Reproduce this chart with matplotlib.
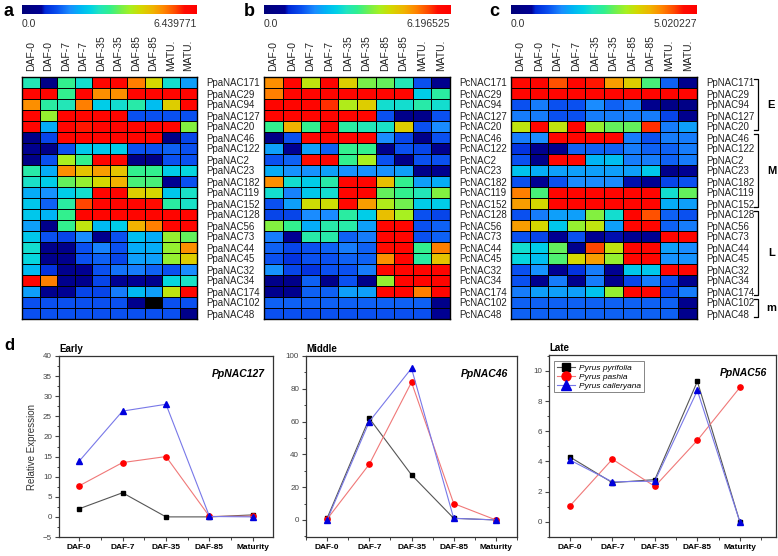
import numpy as np
import matplotlib
matplotlib.use("Agg")
import matplotlib.pyplot as plt
from matplotlib.colors import LinearSegmentedColormap
from matplotlib.ticker import AutoMinorLocator, MultipleLocator
import matplotlib.transforms as mtransforms

plt.rcParams['font.family'] = ['Liberation Sans', 'DejaVu Sans']

W, H = 778, 556
nan = np.nan

columns = ["DAF-0", "DAF-0", "DAF-7", "DAF-7", "DAF-35", "DAF-35",
           "DAF-85", "DAF-85", "MATU.", "MATU."]
genes = ["NAC171", "NAC29", "NAC94", "NAC127", "NAC20", "NAC46", "NAC122", "NAC2",
         "NAC23", "NAC182", "NAC119", "NAC152", "NAC128", "NAC56", "NAC73", "NAC44",
         "NAC45", "NAC32", "NAC34", "NAC174", "NAC102", "NAC48"]
prefix_a, prefix_b, prefix_c = "Ppa", "Pc", "Pp"
max_a, max_b, max_c = 6.439771, 6.196525, 5.020227

# relative level (fraction of colour-scale maximum) read from each cell
lev_a = [
    [0.45, 0.05, 0.50, 0.42, 0.97, 0.97, 0.82, 0.68, 0.42, 0.30],
    [0.97, 0.97, 0.50, 0.97, 0.80, 0.80, 0.97, 0.97, 0.97, 0.97],
    [0.80, 0.48, 0.45, 0.82, 0.38, 0.42, 0.47, 0.35, 0.70, 0.97],
    [0.97, 0.60, 0.97, 0.97, 0.97, 0.97, 0.20, 0.20, 0.20, 0.20],
    [0.97, 0.32, 0.97, 0.92, 0.97, 0.97, 0.97, 0.97, 0.97, 0.58],
    [0.05, 0.18, 0.97, 0.97, 0.97, 0.97, 0.97, 0.97, 0.05, 0.18],
    [0.08, 0.05, 0.20, 0.37, 0.37, 0.38, 0.20, 0.20, 0.22, 0.20],
    [0.05, 0.20, 0.62, 0.50, 0.97, 0.97, 0.05, 0.05, 0.20, 0.20],
    [0.47, 0.32, 0.80, 0.72, 0.78, 0.72, 0.50, 0.50, 0.38, 0.40],
    [0.43, 0.38, 0.55, 0.60, 0.68, 0.75, 0.52, 0.52, 0.10, 0.20],
    [0.32, 0.28, 0.38, 0.42, 0.97, 0.97, 0.70, 0.68, 0.37, 0.43],
    [0.37, 0.22, 0.48, 0.88, 0.97, 0.97, 0.97, 0.93, 0.48, 0.43],
    [0.37, 0.33, 0.50, 0.97, 0.97, 0.97, 0.97, 0.97, 0.97, 0.97],
    [0.30, 0.07, 0.50, 0.65, 0.34, 0.38, 0.75, 0.82, 0.97, 0.97],
    [0.37, 0.20, 0.18, 0.27, 0.08, 0.20, 0.35, 0.32, 0.60, 0.55],
    [0.42, 0.07, 0.07, 0.20, 0.26, 0.20, 0.32, 0.32, 0.60, 0.80],
    [0.40, 0.07, 0.08, 0.20, 0.22, 0.18, 0.30, 0.30, 0.60, 0.70],
    [0.34, 0.15, 0.08, 0.10, 0.20, 0.24, 0.25, 0.22, 0.20, 0.27],
    [0.97, 0.82, 0.08, 0.08, 0.18, 0.10, 0.10, 0.08, 0.40, 0.43],
    [0.30, 0.08, 0.10, 0.18, 0.18, 0.25, 0.34, 0.30, 0.65, 0.97],
    [0.20, 0.20, 0.20, 0.20, 0.20, 0.20, 0.08, nan, 0.20, 0.20],
    [0.20, 0.20, 0.20, 0.20, 0.20, 0.20, 0.20, 0.20, 0.20, 0.07],
]
lev_b = [
    [0.80, 0.97, 0.65, 0.97, 0.70, 0.57, 0.55, 0.45, 0.20, 0.08],
    [0.82, 0.97, 0.97, 0.97, 0.97, 0.97, 0.97, 0.97, 0.38, 0.48],
    [0.97, 0.97, 0.97, 0.90, 0.63, 0.70, 0.42, 0.42, 0.47, 0.42],
    [0.97, 0.97, 0.97, 0.97, 0.97, 0.97, 0.20, 0.07, 0.07, 0.20],
    [0.50, 0.75, 0.50, 0.97, 0.48, 0.45, 0.43, 0.70, 0.20, 0.27],
    [0.05, 0.20, 0.97, 0.97, 0.97, 0.97, 0.27, 0.18, 0.07, 0.20],
    [0.30, 0.10, 0.30, 0.22, 0.50, 0.50, 0.07, 0.20, 0.18, 0.08],
    [0.20, 0.22, 0.93, 0.97, 0.50, 0.62, 0.20, 0.06, 0.20, 0.20],
    [0.32, 0.28, 0.28, 0.30, 0.28, 0.28, 0.28, 0.30, 0.07, 0.08],
    [0.80, 0.42, 0.38, 0.47, 0.97, 0.97, 0.73, 0.50, 0.30, 0.32],
    [0.42, 0.26, 0.37, 0.42, 0.97, 0.97, 0.55, 0.50, 0.45, 0.58],
    [0.20, 0.30, 0.67, 0.67, 0.95, 0.78, 0.63, 0.56, 0.38, 0.38],
    [0.18, 0.18, 0.27, 0.27, 0.48, 0.38, 0.73, 0.62, 0.20, 0.18],
    [0.58, 0.50, 0.32, 0.47, 0.47, 0.30, 0.97, 0.97, 0.20, 0.22],
    [0.25, 0.10, 0.47, 0.47, 0.22, 0.25, 0.97, 0.97, 0.20, 0.22],
    [0.22, 0.18, 0.20, 0.22, 0.25, 0.22, 0.93, 0.97, 0.50, 0.82],
    [0.20, 0.15, 0.20, 0.20, 0.22, 0.22, 0.80, 0.97, 0.48, 0.72],
    [0.28, 0.18, 0.15, 0.20, 0.20, 0.25, 0.97, 0.97, 0.97, 0.97],
    [0.07, 0.07, 0.22, 0.07, 0.20, 0.07, 0.60, 0.97, 0.97, 0.97],
    [0.08, 0.08, 0.22, 0.22, 0.30, 0.30, 0.97, 0.97, 0.82, 0.97],
    [0.22, 0.22, 0.22, 0.22, 0.22, 0.22, 0.22, 0.22, 0.22, 0.07],
    [0.20, 0.20, 0.20, 0.20, 0.20, 0.20, 0.20, 0.20, 0.20, 0.10],
]
lev_c = [
    [0.95, 0.97, 0.87, 0.97, 0.92, 0.78, 0.70, 0.52, 0.22, 0.08],
    [0.97, 0.97, 0.97, 0.97, 0.97, 0.97, 0.97, 0.97, 0.97, 0.97],
    [0.20, 0.25, 0.20, 0.20, 0.27, 0.22, 0.25, 0.08, 0.05, 0.05],
    [0.25, 0.25, 0.20, 0.20, 0.25, 0.25, 0.25, 0.25, 0.18, 0.08],
    [0.65, 0.97, 0.65, 0.97, 0.60, 0.55, 0.55, 0.90, 0.25, 0.30],
    [0.25, 0.27, 0.97, 0.97, 0.97, 0.97, 0.25, 0.20, 0.25, 0.25],
    [0.15, 0.08, 0.08, 0.22, 0.22, 0.22, 0.25, 0.22, 0.22, 0.25],
    [0.20, 0.07, 0.97, 0.97, 0.33, 0.35, 0.25, 0.25, 0.22, 0.25],
    [0.36, 0.32, 0.30, 0.30, 0.30, 0.30, 0.30, 0.37, 0.07, 0.10],
    [0.20, 0.10, 0.20, 0.27, 0.27, 0.27, 0.12, 0.10, 0.18, 0.20],
    [0.82, 0.52, 0.97, 0.97, 0.97, 0.97, 0.97, 0.97, 0.42, 0.55],
    [0.78, 0.68, 0.97, 0.97, 0.97, 0.97, 0.97, 0.97, 0.32, 0.30],
    [0.20, 0.25, 0.30, 0.30, 0.58, 0.42, 0.97, 0.87, 0.22, 0.20],
    [0.78, 0.68, 0.37, 0.60, 0.65, 0.30, 0.97, 0.97, 0.22, 0.25],
    [0.20, 0.18, 0.10, 0.20, 0.10, 0.12, 0.10, 0.10, 0.97, 0.97],
    [0.42, 0.38, 0.55, 0.08, 0.88, 0.65, 0.97, 0.97, 0.30, 0.27],
    [0.40, 0.35, 0.53, 0.68, 0.78, 0.60, 0.97, 0.97, 0.28, 0.28],
    [0.20, 0.28, 0.10, 0.15, 0.25, 0.10, 0.37, 0.37, 0.97, 0.97],
    [0.20, 0.08, 0.25, 0.08, 0.25, 0.08, 0.18, 0.25, 0.20, 0.08],
    [0.25, 0.30, 0.30, 0.30, 0.36, 0.60, 0.97, 0.97, 0.20, 0.25],
    [0.22, 0.22, 0.22, 0.22, 0.22, 0.22, 0.22, 0.22, 0.22, 0.08],
    [0.22, 0.22, 0.22, 0.22, 0.22, 0.22, 0.22, 0.22, 0.22, 0.08],
]
groups = [("E", 0, 4), ("M", 5, 11), ("L", 12, 19), ("m", 20, 21)]

# line-chart data
stages = ["DAF-0", "DAF-7", "DAF-35", "DAF-85", "Maturity"]
species = ["Pyrus pyrifolia", "Pyrus pashia", "Pyrus calleryana"]
early_gene, middle_gene, late_gene = "PpNAC127", "PpNAC46", "PpNAC56"
early_pyrifolia = [2.0, 6.0, 0.0, 0.0, 0.5]
early_pashia = [7.7, 13.5, 15.0, 0.1, 0.2]
early_calleryana = [13.8, 26.3, 28.0, 0.1, 0.0]
middle_pyrifolia = [1.0, 62.0, 27.5, 1.0, 0.0]
middle_pashia = [0.5, 34.0, 84.0, 10.0, 0.0]
middle_calleryana = [0.0, 60.0, 92.5, 1.0, 0.0]
late_pyrifolia = [4.3, 2.6, 2.8, 9.3, 0.0]
late_pashia = [1.05, 4.15, 2.35, 5.4, 8.9]
late_calleryana = [4.1, 2.65, 2.7, 8.7, 0.0]

cmap = LinearSegmentedColormap.from_list("hm", [
    (0.00, '#00007A'), (0.11, '#000095'), (0.13, '#0028D8'), (0.20, '#0A50F0'),
    (0.27, '#1A8CFF'), (0.33, '#00B4F5'), (0.39, '#00D2E6'), (0.44, '#20E4C0'),
    (0.50, '#30F090'), (0.56, '#70F050'), (0.62, '#A8F020'), (0.68, '#D4D800'),
    (0.75, '#F0B400'), (0.81, '#FF8800'), (0.88, '#FF4800'), (0.93, '#FF0C00'),
    (1.00, '#FF0000')])
cmap.set_bad('black')

fig = plt.figure(figsize=(W / 100, H / 100), dpi=100)


def px_axes(x0, y0, x1, y1):
    return fig.add_axes([x0 / W, 1 - y1 / H, (x1 - x0) / W, (y1 - y0) / H])


def heatmap(x0, x1, lev, vmax, prefix, letter, letter_x):
    vals = np.array(lev, dtype=float) * vmax
    ax = px_axes(x0, 77, x1, 319)
    ax.pcolormesh(np.ma.masked_invalid(vals), cmap=cmap, vmin=0, vmax=vmax,
                  edgecolors='black', linewidth=0.7)
    ax.set_xlim(0, 10)
    ax.set_ylim(len(lev), 0)
    ax.set_xticks(np.arange(10) + 0.5)
    ax.set_xticklabels(columns, rotation=90, fontsize=7.5, color='#222222')
    ax.xaxis.tick_top()
    ax.set_yticks(np.arange(len(lev)) + 0.5)
    ax.set_yticklabels([prefix + g for g in genes], fontsize=7, color='#222222')
    ax.yaxis.tick_right()
    ax.tick_params(length=0, pad=4)
    ax.tick_params(axis='y', pad=7)
    for s in ax.spines.values():
        s.set_linewidth(1.0)
    cax = px_axes(x0, 5, x1, 14)
    cax.imshow(np.linspace(0, vmax, 256)[None, :], aspect='auto', cmap=cmap,
               vmin=0, vmax=vmax, extent=(0, vmax, 0, 1))
    cax.set_xticks([])
    cax.set_yticks([])
    for s in cax.spines.values():
        s.set_visible(False)
    cax.text(0, -0.55, "0.0", transform=cax.transAxes, ha='left', va='top',
             fontsize=7.5, color='#333333')
    cax.text(1, -0.55, f"{vmax:.6f}", transform=cax.transAxes, ha='right',
             va='top', fontsize=7.5, color='#333333')
    fig.text(letter_x / W, 1 - 11 / H, letter, fontsize=13, fontweight='bold',
             ha='center', va='center')
    return ax


heatmap(22, 197, lev_a, max_a, prefix_a, "a", 9)
heatmap(264, 450, lev_b, max_b, prefix_b, "b", 249)
axc = heatmap(511, 697, lev_c, max_c, prefix_c, "c", 494)

# group brackets on panel c
trans = mtransforms.blended_transform_factory(axc.transAxes, axc.transData)
bx = 1.33
for name, r0, r1 in groups:
    y0, y1 = r0 + 0.15, r1 + 0.85
    axc.plot([bx - 0.025, bx, bx, bx - 0.025], [y0, y0, y1, y1], color='black',
             lw=0.9, transform=trans, clip_on=False)
    axc.text(bx + 0.07, (y0 + y1) / 2, name, transform=trans, fontsize=8,
             fontweight='bold', ha='center', va='center')

# line charts
fig.text(9 / W, 1 - 345 / H, "d", fontsize=12, fontweight='bold', ha='center',
         va='center')

line_styles = [
    dict(color='#555555', marker='s', mfc='black', mec='black', ms=3.4),
    dict(color='#F07878', marker='o', mfc='#FF0000', mec='#FF0000', ms=3.8),
    dict(color='#7878E8', marker='^', mfc='#0000DD', mec='#0000DD', ms=4.6),
]


def line_panel(box, series, ylim, ymajor, title, gene, xlim, ylabel=None,
               legend=False):
    ax = px_axes(*box)
    x = np.arange(len(stages))
    for data, st, sp in zip(series, line_styles, species):
        ax.plot(x, data, lw=0.8, label=sp, **st)
    ax.set_xlim(*xlim)
    ax.set_ylim(*ylim)
    ax.set_xticks(x)
    ax.set_xticklabels(stages, fontsize=6, fontweight='bold')
    ax.xaxis.set_minor_locator(MultipleLocator(0.5))
    ax.yaxis.set_major_locator(MultipleLocator(ymajor))
    ax.yaxis.set_minor_locator(AutoMinorLocator(2))
    ax.tick_params(axis='y', labelsize=5.8, labelcolor='#444444')
    ax.tick_params(which='major', direction='out', length=3, width=0.8,
                   color='#444444', pad=2)
    ax.tick_params(which='minor', direction='out', length=1.8, width=0.7,
                   color='#444444')
    for s in ax.spines.values():
        s.set_linewidth(0.9)
        s.set_color('#333333')
    ax.set_title(title, loc='left', fontsize=7, fontweight='bold', pad=3)
    ax.text(0.96, 0.9, gene, transform=ax.transAxes, ha='right', va='center',
            fontsize=7.5, fontweight='bold', fontstyle='italic')
    if ylabel:
        ax.set_ylabel(ylabel, fontsize=7, color='#333333', labelpad=4)
    if legend:
        leg = ax.legend(loc='upper left', bbox_to_anchor=(0.015, 0.975),
                        prop=dict(size=6, style='italic'), markerscale=1.7,
                        frameon=True, fancybox=False, handlelength=2.2,
                        borderpad=0.3, labelspacing=0.15, handletextpad=0.5,
                        borderaxespad=0.2)
        leg.get_frame().set_edgecolor('#666666')
        leg.get_frame().set_linewidth(0.7)
    return ax


line_panel((59, 356, 273, 537),
           [early_pyrifolia, early_pashia, early_calleryana],
           (-5, 40), 5, "Early", early_gene, (-0.46, 4.46),
           ylabel="Relative Expression")
line_panel((306, 356, 517, 537),
           [middle_pyrifolia, middle_pashia, middle_calleryana],
           (-10.4, 100), 20, "Middle", middle_gene, (-0.5, 4.5))
line_panel((549, 355, 776, 537),
           [late_pyrifolia, late_pashia, late_calleryana],
           (-1.0, 11.05), 2, "Late", late_gene, (-0.49, 4.85), legend=True)

fig.savefig("out.png", dpi=100)
